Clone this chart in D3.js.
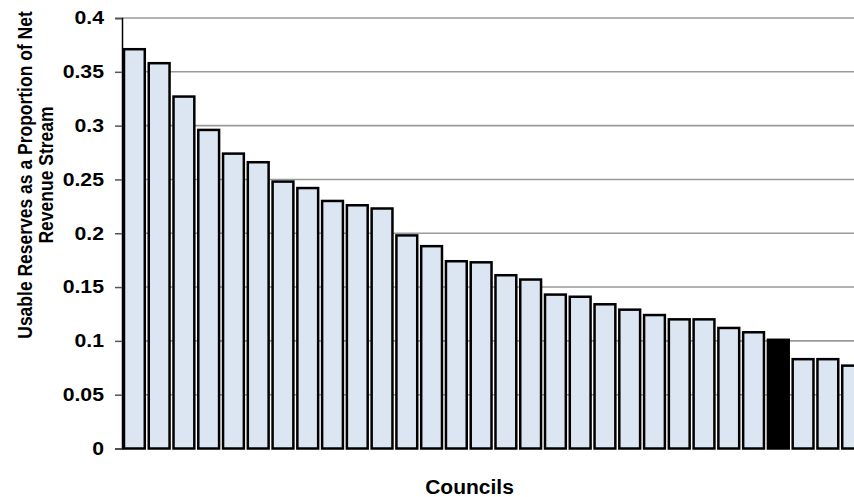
<!DOCTYPE html>
<html>
<head>
<meta charset="utf-8">
<script src="https://cdn.jsdelivr.net/npm/d3@7"></script>
<style>
  body { margin: 0; background: #fff; }
  text { font-family: "Liberation Sans", Arial, sans-serif; font-weight: bold; }
</style>
</head>
<body>
<div id="chart"></div>
<script>
// one bar per council, sorted high to low
const councils = d3.range(1, 31).map((i) => "C" + i);
const reserves = [
  0.371, 0.358, 0.327, 0.296, 0.274, 0.266, 0.248, 0.242, 0.230, 0.226,
  0.223, 0.198, 0.188, 0.174, 0.173, 0.161, 0.157, 0.143, 0.141, 0.134,
  0.129, 0.124, 0.120, 0.120, 0.112, 0.108, 0.101, 0.083, 0.083, 0.077
];
const highlighted = "C27";
const yTicks = [0, 0.05, 0.1, 0.15, 0.2, 0.25, 0.3, 0.35, 0.4];

const width = 854;
const height = 497;
const margin = { top: 18, left: 122, bottom: 48 };
const plotRight = 865; // chart runs off the right edge of the picture

const svg = d3
  .select("#chart")
  .append("svg")
  .attr("width", width)
  .attr("height", height);

const xScale = d3
  .scaleBand()
  .domain(councils)
  .range([margin.left, plotRight])
  .paddingInner(0.16)
  .paddingOuter(0.08);

const yScale = d3
  .scaleLinear()
  .domain([0, 0.4])
  .range([height - margin.bottom - 0.5, margin.top]);

// widen text a little, the original picture is stretched sideways
function stretch(sel, k) {
  sel.each(function () {
    const w = this.getComputedTextLength();
    d3.select(this).attr("textLength", w * k).attr("lengthAdjust", "spacingAndGlyphs");
  });
}

// gridlines
svg
  .append("g")
  .selectAll("line")
  .data(yTicks.slice(1))
  .enter()
  .append("line")
  .attr("x1", margin.left)
  .attr("x2", width)
  .attr("y1", (d) => yScale(d))
  .attr("y2", (d) => yScale(d))
  .attr("stroke", "#9a9a9a")
  .attr("stroke-width", 1.6);

// bars
svg
  .append("g")
  .selectAll("rect")
  .data(reserves)
  .enter()
  .append("rect")
  .attr("x", (d, i) => xScale(councils[i]))
  .attr("y", (d) => yScale(d))
  .attr("width", xScale.bandwidth())
  .attr("height", (d) => yScale(0) - yScale(d))
  .attr("fill", (d, i) => (councils[i] === highlighted ? "#000" : "#dce6f2"))
  .attr("stroke", "#000")
  .attr("stroke-width", 2.5);

// y axis
const yAxis = svg
  .append("g")
  .attr("transform", `translate(${margin.left}, 0)`)
  .call(
    d3
      .axisLeft(yScale)
      .tickValues(yTicks)
      .tickSize(7)
      .tickPadding(11)
      .tickFormat((d) => String(+d.toFixed(2)))
  );
yAxis.select(".domain").attr("stroke", "#000").attr("stroke-width", 1.5);
yAxis.selectAll(".tick line").attr("stroke", "#555").attr("stroke-width", 1.5);
yAxis
  .selectAll(".tick text")
  .attr("fill", "#000")
  .style("font-family", '"Liberation Sans", Arial, sans-serif')
  .style("font-weight", "bold")
  .style("font-size", "18px")
  .call(stretch, 1.18);

// y title, scaled sideways so the glyphs get the same thickness
const yTitle = svg
  .append("text")
  .attr("transform", "translate(24.3, 175) scale(1.2, 1) rotate(-90)")
  .attr("text-anchor", "middle")
  .style("font-size", "17.5px");
yTitle.append("tspan").attr("x", 0).attr("dy", "0.35em").text("Usable Reserves as a Proportion of Net");
yTitle.append("tspan").attr("x", 0).attr("dy", "1.03em").text("Revenue Stream");

svg
  .append("text")
  .attr("x", 469.5)
  .attr("y", 494)
  .attr("text-anchor", "middle")
  .style("font-size", "20px")
  .text("Councils")
  .call(stretch, 1.05);
</script>
</body>
</html>
